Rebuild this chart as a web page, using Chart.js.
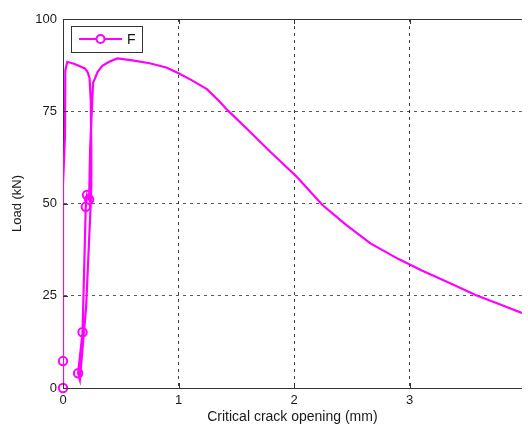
<!DOCTYPE html>
<html><head><meta charset="utf-8">
<script src="https://cdn.jsdelivr.net/npm/chart.js@4/dist/chart.umd.min.js"></script>
<style>html,body{margin:0;padding:0;background:#fff;} #wrap{width:528px;height:428px;}</style>
</head><body><div id="wrap"><canvas id="c" width="528" height="428"></canvas></div>
<script>
// ---- data ----
const crackOpening = [0, 0, 0, 0.017, 0.02, 0.037, 0.1, 0.19, 0.215, 0.23, 0.24, 0.245, 0.245, 0.24, 0.2, 0.146, 0.131, 0.169, 0.197, 0.208, 0.226, 0.235, 0.26, 0.30, 0.34, 0.40, 0.47, 0.6, 0.75, 0.9, 1.0, 1.12, 1.245, 1.35, 1.43, 1.6, 1.8, 2.02, 2.245, 2.45, 2.66, 2.9, 3.1, 3.35, 3.57, 3.8, 4.0];
const load =         [0, 7.3, 55, 68, 86, 88.4, 87.8, 86.6, 85.5, 83.9, 78, 65, 55, 50, 22, 2.2, 4.0, 15.1, 49.1, 52.3, 51.1, 65, 82.6, 85.7, 87.3, 88.4, 89.3, 88.8, 88.0, 86.8, 85.3, 83.3, 81.0, 77.8, 75.1, 70.0, 63.8, 57.3, 49.6, 44.2, 39.2, 35.0, 31.9, 28.4, 25.2, 22.4, 20.0];
const markerOpening = [0, 0, 0.131, 0.169, 0.197, 0.208, 0.226];
const markerLoad =    [0, 7.3, 4.0, 15.1, 49.1, 52.3, 51.1];
const xTickValues = [0, 1, 2, 3];
const yTickValues = [0, 25, 50, 75, 100];
const seriesName = 'F';
const xTitle = 'Critical crack opening (mm)';
const yTitle = 'Load (kN)';

const MAG = '#ff00ff';
const FONT = '"Liberation Sans", Arial, sans-serif';
const AXIS = '#333333';

const linePts = crackOpening.map((x, i) => ({x, y: load[i]}));
const markPts = markerOpening.map((x, i) => ({x, y: markerLoad[i]}));

const framePlugin = {
  id: 'frame',
  afterDraw(chart) {
    const {ctx, chartArea: a, scales: {x, y}} = chart;
    ctx.save();
    ctx.strokeStyle = AXIS; ctx.lineWidth = 1;
    ctx.beginPath(); ctx.moveTo(a.left, a.top + 0.5); ctx.lineTo(a.right, a.top + 0.5); ctx.stroke();
    ctx.beginPath();
    xTickValues.forEach(v => {
      const px = Math.round(x.getPixelForValue(v)) + 0.5;
      ctx.moveTo(px, a.bottom); ctx.lineTo(px, a.bottom - 5);
      ctx.moveTo(px, a.top); ctx.lineTo(px, a.top + 5);
    });
    yTickValues.forEach(v => {
      const py = Math.round(y.getPixelForValue(v)) + 0.5;
      ctx.moveTo(a.left, py); ctx.lineTo(a.left + 5, py);
    });
    ctx.stroke();
    // legend
    const bx = 71, by = 26, bw = 71, bh = 26;
    ctx.fillStyle = '#fff';
    ctx.fillRect(bx, by, bw, bh);
    ctx.strokeStyle = AXIS;
    ctx.strokeRect(bx + 0.5, by + 0.5, bw, bh);
    const ly = by + 13;
    ctx.strokeStyle = MAG; ctx.lineWidth = 2;
    ctx.beginPath(); ctx.moveTo(bx + 8, ly); ctx.lineTo(bx + 51, ly); ctx.stroke();
    ctx.fillStyle = '#fff'; ctx.lineWidth = 2;
    ctx.beginPath(); ctx.arc(bx + 29.5, ly, 4, 0, Math.PI * 2); ctx.fill(); ctx.stroke();
    ctx.fillStyle = '#111';
    ctx.font = '14px ' + FONT;
    ctx.textBaseline = 'middle'; ctx.textAlign = 'left';
    ctx.fillText(seriesName, bx + 56, ly + 1);
    ctx.restore();
  }
};

new Chart(document.getElementById('c'), {
  type: 'scatter',
  data: {
    datasets: [
      {label: seriesName, data: linePts, showLine: true, borderColor: MAG, borderWidth: 2.2,
       pointRadius: 0, pointHoverRadius: 0, tension: 0, fill: false},
      {label: seriesName + ' markers', data: markPts, showLine: false, clip: false,
       pointStyle: 'circle', pointRadius: 4.2, borderWidth: 2, borderColor: MAG,
       pointBackgroundColor: '#fff', pointBorderColor: MAG}
    ]
  },
  options: {
    responsive: false, animation: false, devicePixelRatio: 1,
    layout: {padding: {top: 19, right: 0, left: 0, bottom: 0}},
    plugins: {legend: {display: false}, tooltip: {enabled: false}},
    scales: {
      x: {
        type: 'linear', min: 0, max: 3.97,
        afterBuildTicks: s => { s.ticks = xTickValues.map(v => ({value: v})); },
        afterFit: s => { s.height = 40; },
        grid: {color: 'rgba(0,0,0,0.75)', drawTicks: false, tickLength: 0},
        border: {display: true, color: AXIS, width: 1, dash: [3, 4]},
        ticks: {padding: 5, color: '#1a1a1a', font: {family: FONT, size: 13}},
        title: {display: true, text: xTitle, color: '#1a1a1a', font: {family: FONT, size: 14}, padding: {top: 0, bottom: 2}}
      },
      y: {
        type: 'linear', min: 0, max: 100,
        afterBuildTicks: s => { s.ticks = yTickValues.map(v => ({value: v})); },
        afterFit: s => { s.width = 63; },
        grid: {color: 'rgba(0,0,0,0.65)', drawTicks: false, tickLength: 0},
        border: {display: true, color: AXIS, width: 1, dash: [3, 4]},
        ticks: {padding: 6, color: '#1a1a1a', font: {family: FONT, size: 13}},
        title: {display: true, text: yTitle, color: '#1a1a1a', font: {family: FONT, size: 13}, padding: {top: 10, bottom: 0}}
      }
    }
  },
  plugins: [framePlugin]
});
</script>
</body></html>
